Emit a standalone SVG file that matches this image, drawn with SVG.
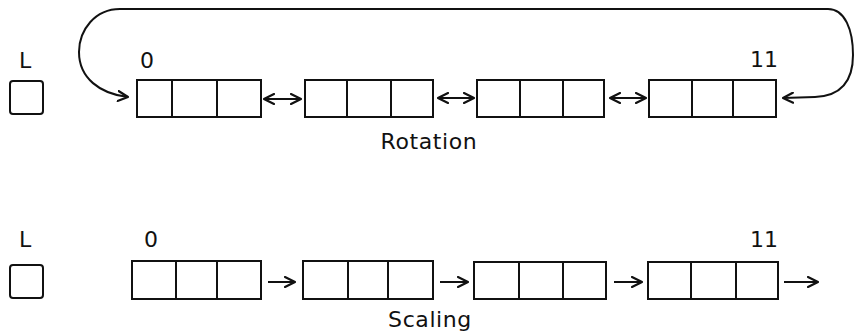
<svg xmlns="http://www.w3.org/2000/svg" width="854" height="333" viewBox="0 0 854 333">
  <defs>
    <marker id="head" viewBox="0 0 12 12" refX="11" refY="6" markerWidth="12" markerHeight="12" markerUnits="userSpaceOnUse" orient="auto-start-reverse">
      <path d="M1 1 L11 6 L1 11" fill="none" stroke="#111" stroke-width="2.2" stroke-linecap="round" stroke-linejoin="round"/>
    </marker>
    <style>
      .box { fill: #fff; stroke: #111; stroke-width: 2; }
      .reg { fill: #fff; stroke: #111; stroke-width: 2; }
      .div { stroke: #111; stroke-width: 2; }
      .link { fill: none; stroke: #111; stroke-width: 2; }
      .lbl { font-family: "DejaVu Sans", "Liberation Sans", sans-serif; font-size: 22px; fill: #111; }
      .cap { font-family: "DejaVu Sans", "Liberation Sans", sans-serif; font-size: 22px; fill: #111; letter-spacing: 0.6px; text-anchor: middle; }
    </style>
  </defs>

  <!-- Rotation: register and ring of four cells -->
  <g id="rot-register">
    <text class="lbl" x="19" y="68">L</text>
    <rect class="reg" x="10" y="81" width="33" height="33" rx="3"/>
  </g>
  <g id="rot-cell-0">
    <text class="lbl" x="140" y="68">0</text>
    <rect class="box" x="137" y="80" width="124" height="37"/>
    <line class="div" x1="172" y1="80" x2="172" y2="117"/>
    <line class="div" x1="217" y1="80" x2="217" y2="117"/>
  </g>
  <g id="rot-cell-1">
    <rect class="box" x="305" y="80" width="128" height="37"/>
    <line class="div" x1="347" y1="80" x2="347" y2="117"/>
    <line class="div" x1="391" y1="80" x2="391" y2="117"/>
  </g>
  <g id="rot-cell-2">
    <rect class="box" x="477" y="80" width="127" height="37"/>
    <line class="div" x1="520" y1="80" x2="520" y2="117"/>
    <line class="div" x1="563" y1="80" x2="563" y2="117"/>
  </g>
  <g id="rot-cell-3">
    <text class="lbl" x="750" y="67">11</text>
    <rect class="box" x="649" y="80" width="127" height="37"/>
    <line class="div" x1="692" y1="80" x2="692" y2="117"/>
    <line class="div" x1="733" y1="80" x2="733" y2="117"/>
  </g>
  <text class="cap" x="429" y="149">Rotation</text>

  <!-- Scaling: register and chain of four cells -->
  <g id="scl-register">
    <text class="lbl" x="19" y="247">L</text>
    <rect class="reg" x="10" y="265" width="33" height="33" rx="3"/>
  </g>
  <g id="scl-cell-0">
    <text class="lbl" x="144" y="247">0</text>
    <rect class="box" x="132" y="261" width="129" height="38"/>
    <line class="div" x1="176" y1="261" x2="176" y2="299"/>
    <line class="div" x1="217" y1="261" x2="217" y2="299"/>
  </g>
  <g id="scl-cell-1">
    <rect class="box" x="303" y="261" width="130" height="38"/>
    <line class="div" x1="348" y1="261" x2="348" y2="299"/>
    <line class="div" x1="388" y1="261" x2="388" y2="299"/>
  </g>
  <g id="scl-cell-2">
    <rect class="box" x="474" y="262" width="132" height="37"/>
    <line class="div" x1="519" y1="262" x2="519" y2="299"/>
    <line class="div" x1="563" y1="262" x2="563" y2="299"/>
  </g>
  <g id="scl-cell-3">
    <text class="lbl" x="750" y="247">11</text>
    <rect class="box" x="648" y="262" width="130" height="37"/>
    <line class="div" x1="691" y1="262" x2="691" y2="299"/>
    <line class="div" x1="736" y1="262" x2="736" y2="299"/>
  </g>
  <text class="cap" x="430" y="327">Scaling</text>

  <!-- Connectors -->
  <g id="connectors">
    <path class="link" d="M783 98 L815 97 C840 96 853 82 853 55 C853 30 845 9 828 9 L120 9 C95 9 79 30 79 52 C79 78 100 94 128 97" marker-start="url(#head)" marker-end="url(#head)"/>
    <line class="link" x1="264" y1="99" x2="301" y2="99" marker-start="url(#head)" marker-end="url(#head)"/>
    <line class="link" x1="438" y1="98" x2="474" y2="98" marker-start="url(#head)" marker-end="url(#head)"/>
    <line class="link" x1="610" y1="98" x2="646" y2="98" marker-start="url(#head)" marker-end="url(#head)"/>
    <line class="link" x1="268" y1="282" x2="295" y2="282" marker-end="url(#head)"/>
    <line class="link" x1="440" y1="282" x2="468" y2="282" marker-end="url(#head)"/>
    <line class="link" x1="614" y1="282" x2="642" y2="282" marker-end="url(#head)"/>
    <line class="link" x1="784" y1="282" x2="818" y2="282" marker-end="url(#head)"/>
  </g>
</svg>
